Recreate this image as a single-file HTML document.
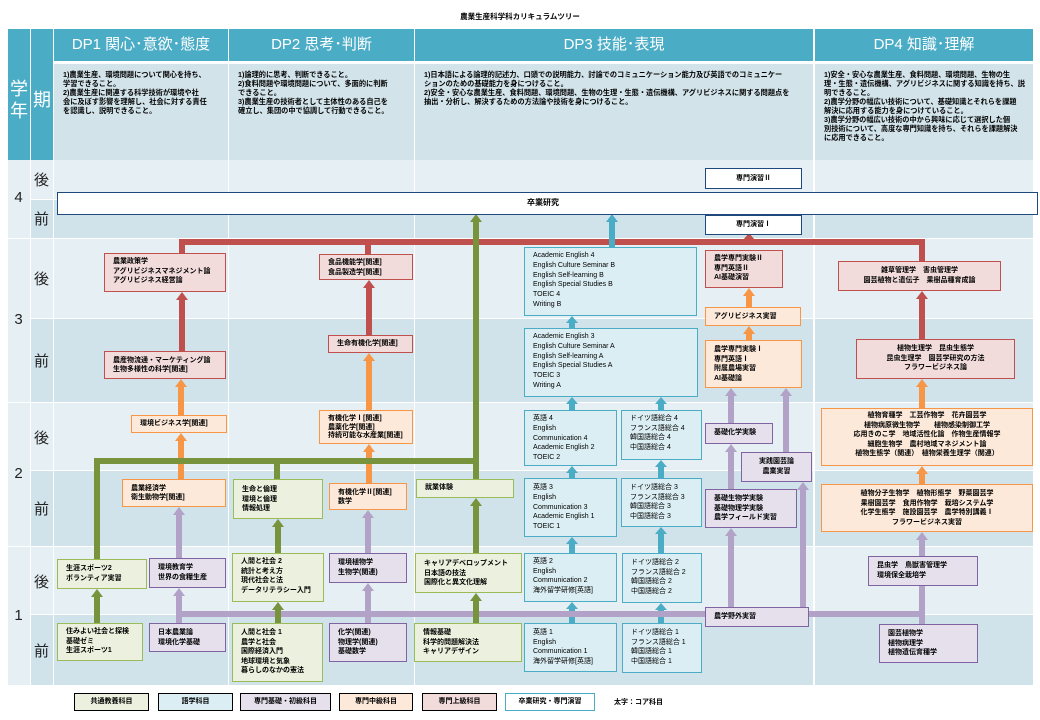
<!DOCTYPE html>
<html><head><meta charset="utf-8">
<style>
*{margin:0;padding:0;box-sizing:border-box}
body{width:1040px;height:720px;background:#fff;position:relative;overflow:hidden;font-family:"Liberation Sans","Noto Sans CJK JP",sans-serif;color:#000}
.a{position:absolute}
.hd{position:absolute;background:#4bacc6;color:#fff;font-size:15px;text-align:center;line-height:32px}
.ds{position:absolute;background:#d2e3ea;font-size:7.2px;font-weight:bold;line-height:9px;padding:6px 0 0 9px;white-space:nowrap}
.rl{background:#e6eff3}
.rd{background:#d0e2ea}
.lb{position:absolute;font-size:15px;color:#222;text-align:center;width:21px}
.b{position:absolute;z-index:3;border:1.5px solid;font-size:7px;line-height:9.6px;padding:3px 0 0 8px;white-space:nowrap;font-weight:bold}
.c{text-align:center;padding-left:0}
.g{border-color:#9bbb59;background:#ebf1de}
.bl{border-color:#4bacc6;background:#dbeef3;font-weight:normal}
.p{border-color:#8064a2;background:#e5e0ec}
.o{border-color:#f79646;background:#fde9d9}
.r{border-color:#c0504d;background:#f2dcdb}
.w{border-color:#1f497d;background:#fff}
svg{position:absolute;left:0;top:0;z-index:2}
.lg{position:absolute;top:693px;height:18px;border:1.5px solid;font-size:7px;font-weight:bold;text-align:center;line-height:15px}
</style></head><body>
<div class="a" style="left:0;top:11px;width:1040px;text-align:center;font-size:7.5px;font-weight:bold">農業生産科学科カリキュラムツリー</div>

<!-- left columns -->
<div class="a" style="left:8px;top:29px;width:22px;height:131px;background:#4bacc6"></div>
<div class="a" style="left:31px;top:29px;width:22px;height:131px;background:#4bacc6"></div>
<div class="a" style="left:8px;top:78px;width:22px;color:#fff;font-size:18px;text-align:center;line-height:22px">学<br>年</div>
<div class="a" style="left:31px;top:86px;width:22px;color:#fff;font-size:18px;text-align:center">期</div>

<!-- headers -->
<div class="hd" style="left:54px;top:29px;width:174px">DP1 関心･意欲･態度</div>
<div class="hd" style="left:229px;top:29px;width:185px">DP2 思考･判断</div>
<div class="hd" style="left:415px;top:29px;width:398px">DP3 技能･表現</div>
<div class="hd" style="left:815px;top:29px;width:218px">DP4 知識･理解</div>

<div class="ds" style="left:54px;top:64px;width:174px;height:96px">1)農業生産、環境問題について関心を持ち、<br>学習できること。<br>2)農業生産に関連する科学技術が環境や社<br>会に及ぼす影響を理解し、社会に対する責任<br>を認識し、説明できること。</div>
<div class="ds" style="left:229px;top:64px;width:185px;height:96px">1)論理的に思考、判断できること。<br>2)食料問題や環境問題について、多面的に判断<br>できること。<br>3)農業生産の技術者として主体性のある自己を<br>確立し、集団の中で協調して行動できること。</div>
<div class="ds" style="left:415px;top:64px;width:398px;height:96px">1)日本語による論理的記述力、口頭での説明能力、討論でのコミュニケーション能力及び英語でのコミュニケー<br>ションのための基礎能力を身につけること。<br>2)安全・安心な農業生産、食料問題、環境問題、生物の生理・生態・遺伝機構、アグリビジネスに関する問題点を<br>抽出・分析し、解決するための方法論や技術を身につけること。</div>
<div class="ds" style="left:815px;top:64px;width:218px;height:96px">1)安全・安心な農業生産、食料問題、環境問題、生物の生<br>理・生態・遺伝機構、アグリビジネスに関する知識を持ち、説<br>明できること。<br>2)農学分野の幅広い技術について、基礎知識とそれらを課題<br>解決に応用する能力を身につけていること。<br>3)農学分野の幅広い技術の中から興味に応じて選択した個<br>別技術について、高度な専門知識を持ち、それらを課題解決<br>に応用できること。</div>

<!-- grid rows -->
<div class="a rl" style="left:8px;top:160px;width:22px;height:78px"></div>
<div class="a rl" style="left:8px;top:239px;width:22px;height:163px"></div>
<div class="a rl" style="left:8px;top:403px;width:22px;height:143px"></div>
<div class="a rl" style="left:8px;top:547px;width:22px;height:138px"></div>

<div class="a rl" style="left:31px;top:160px;width:1002px;height:39px"></div>
<div class="a rd" style="left:31px;top:200px;width:1002px;height:38px"></div>
<div class="a rl" style="left:31px;top:239px;width:1002px;height:79px"></div>
<div class="a rd" style="left:31px;top:319px;width:1002px;height:83px"></div>
<div class="a rl" style="left:31px;top:403px;width:1002px;height:67px"></div>
<div class="a rd" style="left:31px;top:471px;width:1002px;height:75px"></div>
<div class="a rl" style="left:31px;top:547px;width:1002px;height:67px"></div>
<div class="a rd" style="left:31px;top:615px;width:1002px;height:70px"></div>
<!-- white separators -->
<div class="a" style="left:53px;top:160px;width:1px;height:525px;background:#fff"></div>
<div class="a" style="left:228px;top:64px;width:1px;height:621px;background:#fff"></div>
<div class="a" style="left:414px;top:64px;width:1px;height:621px;background:#fff"></div>
<div class="a" style="left:813px;top:64px;width:2px;height:621px;background:#fff"></div>

<div class="lb" style="left:8px;top:189px">4</div>
<div class="lb" style="left:8px;top:311px">3</div>
<div class="lb" style="left:8px;top:465px">2</div>
<div class="lb" style="left:8px;top:607px">1</div>
<div class="lb" style="left:31px;top:169px">後</div>
<div class="lb" style="left:31px;top:208px">前</div>
<div class="lb" style="left:31px;top:268px">後</div>
<div class="lb" style="left:31px;top:350px">前</div>
<div class="lb" style="left:31px;top:427px">後</div>
<div class="lb" style="left:31px;top:498px">前</div>
<div class="lb" style="left:31px;top:571px">後</div>
<div class="lb" style="left:31px;top:640px">前</div>

<svg width="1040" height="720">
<g fill="#c0504d" stroke="none">
<rect x="179" y="239" width="746" height="6"/>
<rect x="179" y="239" width="6" height="15"/>
<rect x="365" y="239" width="6" height="16"/>
<rect x="919" y="239" width="6" height="23"/>
<polygon points="743,240 755,240 749,233"/>
<rect x="179" y="300" width="6" height="51"/><polygon points="176,300 188,300 182,292"/>
<rect x="366" y="288" width="6" height="47"/><polygon points="363,288 375,288 369,280"/>
<rect x="919" y="299" width="6" height="40"/><polygon points="916,299 928,299 922,291"/>
</g>
<g fill="#f79646">
<rect x="178" y="387" width="6" height="28"/><polygon points="175,387 187,387 181,379"/>
<rect x="178" y="441" width="6" height="38"/><polygon points="175,441 187,441 181,433"/>
<rect x="366" y="361" width="6" height="49"/><polygon points="363,361 375,361 369,353"/>
<rect x="366" y="452" width="6" height="31"/><polygon points="363,452 375,452 369,444"/>
<rect x="746" y="296" width="6" height="11"/><polygon points="743,296 755,296 749,288"/>
<rect x="746" y="334" width="6" height="6"/><polygon points="743,334 755,334 749,326"/>
<rect x="919" y="387" width="6" height="21"/><polygon points="916,387 928,387 922,379"/>
<rect x="919" y="474" width="6" height="10"/><polygon points="916,474 928,474 922,466"/>
</g>
<g fill="#4bacc6">
<rect x="609" y="222" width="6" height="25"/><polygon points="606,222 618,222 612,214"/>
<rect x="569" y="322" width="6" height="6"/><polygon points="566,323 578,323 572,316"/>
<rect x="569" y="404" width="6" height="6"/><polygon points="566,404 578,404 572,397"/>
<rect x="569" y="472" width="6" height="6"/><polygon points="566,473 578,473 572,466"/>
<rect x="569" y="544" width="6" height="9"/><polygon points="566,544 578,544 572,537"/>
<rect x="569" y="609" width="6" height="14"/><polygon points="566,609 578,609 572,602"/>
<rect x="658" y="404" width="6" height="6"/><polygon points="655,404 667,404 661,397"/>
<rect x="658" y="467" width="6" height="11"/><polygon points="655,467 667,467 661,460"/>
<rect x="658" y="534" width="6" height="19"/><polygon points="655,534 667,534 661,527"/>
<rect x="658" y="610" width="6" height="13"/><polygon points="655,610 667,610 661,603"/>
</g>
<g fill="#b3a2c7">
<rect x="176" y="611" width="749" height="6"/>
<rect x="176" y="596" width="6" height="27"/><polygon points="173,596 185,596 179,588"/>
<rect x="176" y="515" width="6" height="43"/><polygon points="173,515 185,515 179,507"/>
<rect x="365" y="591" width="6" height="32"/><polygon points="362,591 374,591 368,583"/>
<rect x="365" y="518" width="6" height="35"/><polygon points="362,518 374,518 368,510"/>
<rect x="728" y="536" width="6" height="71"/><polygon points="725,536 737,536 731,528"/>
<rect x="728" y="452" width="6" height="37"/><polygon points="725,452 737,452 731,444"/>
<rect x="728" y="396" width="6" height="27"/><polygon points="725,396 737,396 731,388"/>
<rect x="783" y="396" width="6" height="56"/><polygon points="780,396 792,396 786,388"/>
<rect x="800" y="490" width="6" height="117"/><polygon points="797,490 809,490 803,482"/>
<rect x="919" y="540" width="6" height="84"/><polygon points="916,540 928,540 922,532"/>
</g>
<g fill="#77933c">
<rect x="94" y="458" width="385" height="6"/>
<rect x="94" y="458" width="6" height="101"/>
<rect x="274" y="458" width="6" height="21"/>
<rect x="473" y="222" width="6" height="257"/><polygon points="470,222 482,222 476,214"/>
<rect x="473" y="506" width="6" height="47"/><polygon points="470,506 482,506 476,498"/>
<rect x="473" y="601" width="6" height="22"/><polygon points="470,601 482,601 476,593"/>
<rect x="94" y="597" width="6" height="26"/><polygon points="91,597 103,597 97,589"/>
<rect x="275" y="527" width="6" height="26"/><polygon points="272,527 284,527 278,519"/>
<rect x="275" y="610" width="6" height="13"/><polygon points="272,610 284,610 278,602"/>
</g>
</svg>

<!-- year 4 -->
<div class="b w" style="left:57px;top:192px;width:981px;height:23px;font-size:8px;padding:5px 0 0 469px">卒業研究</div>
<div class="b w c" style="left:705px;top:168px;width:97px;height:21px;font-size:7px;padding-top:5px">専門演習Ⅱ</div>
<div class="b w c" style="left:705px;top:215px;width:97px;height:20px;font-size:7px;padding-top:4px">専門演習Ⅰ</div>

<!-- year 3 後 -->
<div class="b r" style="left:104px;top:253px;width:122px;height:39px">農業政策学<br>アグリビジネスマネジメント論<br>アグリビジネス経営論</div>
<div class="b r" style="left:319px;top:254px;width:94px;height:26px">食品機能学[関連]<br>食品製造学[関連]</div>
<div class="b bl" style="left:524px;top:247px;width:173px;height:69px;line-height:9.8px">Academic English 4<br>English Culture Seminar B<br>English Self-learning B<br>English Special Studies B<br>TOEIC 4<br>Writing B</div>
<div class="b r" style="left:705px;top:250px;width:78px;height:38px;padding-left:8px">農学専門実験Ⅱ<br>専門英語Ⅱ<br>AI基礎演習</div>
<div class="b o" style="left:705px;top:307px;width:96px;height:19px;padding-top:4px">アグリビジネス実習</div>
<div class="b r c" style="left:838px;top:261px;width:163px;height:30px;padding-top:4px">雑草管理学　害虫管理学<br>園芸植物と遺伝子　果樹品種育成論</div>

<!-- year 3 前 -->
<div class="b r" style="left:104px;top:351px;width:122px;height:28px;line-height:8.5px;padding-top:5px">農産物流通・マーケティング論<br>生物多様性の科学[関連]</div>
<div class="b r" style="left:328px;top:335px;width:85px;height:18px;padding-top:3px">生命有機化学[関連]</div>
<div class="b bl" style="left:524px;top:328px;width:174px;height:69px;line-height:9.8px">Academic English 3<br>English Culture Seminar A<br>English Self-learning A<br>English Special Studies A<br>TOEIC 3<br>Writing A</div>
<div class="b o" style="left:705px;top:340px;width:97px;height:48px;padding-top:4px">農学専門実験Ⅰ<br>専門英語Ⅰ<br>附属農場実習<br>AI基礎論</div>
<div class="b r c" style="left:856px;top:339px;width:159px;height:40px;padding-top:4px">植物生理学　昆虫生態学<br>昆虫生理学　園芸学研究の方法<br>フラワービジネス論</div>

<!-- year 2 後 -->
<div class="b o" style="left:131px;top:415px;width:96px;height:18px;padding-top:3px">環境ビジネス学[関連]</div>
<div class="b o" style="left:319px;top:410px;width:94px;height:34px;line-height:8.5px;padding-top:4px">有機化学Ⅰ[関連]<br>農薬化学[関連]<br>持続可能な水産業[関連]</div>
<div class="b bl" style="left:524px;top:410px;width:93px;height:56px;line-height:9.8px">英語 4<br>English<br>Communication 4<br>Academic English 2<br>TOEIC 2</div>
<div class="b bl" style="left:621px;top:410px;width:81px;height:50px">ドイツ語総合 4<br>フランス語総合 4<br>韓国語総合 4<br>中国語総合 4</div>
<div class="b p" style="left:705px;top:423px;width:68px;height:21px;padding-top:4px">基礎化学実験</div>
<div class="b p c" style="left:741px;top:452px;width:71px;height:30px;padding-top:4px">実践園芸論<br>農業実習</div>
<div class="b o c" style="left:821px;top:408px;width:212px;height:58px;padding-top:2px">植物育種学　工芸作物学　花卉園芸学<br>植物病原微生物学　　植物感染制御工学<br>応用きのこ学　地域活性化論　作物生産情報学<br>細胞生物学　農村地域マネジメント論<br>植物生態学（関連）　植物栄養生理学（関連）</div>

<!-- year 2 前 -->
<div class="b o" style="left:122px;top:479px;width:104px;height:28px;line-height:8.5px;padding-top:5px">農業経済学<br>衛生動物学[関連]</div>
<div class="b g" style="left:233px;top:479px;width:90px;height:40px;padding-top:5px">生命と倫理<br>環境と倫理<br>情報処理</div>
<div class="b o" style="left:329px;top:483px;width:78px;height:27px;line-height:8.5px;padding-top:5px">有機化学Ⅱ[関連]<br>数学</div>
<div class="b g" style="left:416px;top:479px;width:98px;height:19px;padding-top:3px">就業体験</div>
<div class="b bl" style="left:524px;top:478px;width:93px;height:59px;line-height:9.8px;padding-top:4px">英語 3<br>English<br>Communication 3<br>Academic English 1<br>TOEIC 1</div>
<div class="b bl" style="left:621px;top:478px;width:81px;height:49px;padding-top:4px">ドイツ語総合 3<br>フランス語総合 3<br>韓国語総合 3<br>中国語総合 3</div>
<div class="b p" style="left:705px;top:489px;width:92px;height:39px;padding-top:4px">基礎生物学実験<br>基礎物理学実験<br>農学フィールド実習</div>
<div class="b o c" style="left:821px;top:484px;width:212px;height:48px;padding-top:4px">植物分子生物学　植物形態学　野菜園芸学<br>果樹園芸学　食用作物学　栽培システム学<br>化学生態学　施設園芸学　農学特別講義Ⅰ<br>フラワービジネス実習</div>

<!-- year 1 後 -->
<div class="b g" style="left:57px;top:559px;width:90px;height:30px;padding-top:4px">生涯スポーツ2<br>ボランティア実習</div>
<div class="b p" style="left:149px;top:558px;width:77px;height:30px;padding-top:4px">環境教育学<br>世界の食糧生産</div>
<div class="b g" style="left:232px;top:553px;width:92px;height:49px;padding-top:3px">人間と社会 2<br>統計と考え方<br>現代社会と法<br>データリテラシー入門</div>
<div class="b p" style="left:329px;top:553px;width:78px;height:30px;padding-top:4px">環境植物学<br>生物学(関連)</div>
<div class="b g" style="left:415px;top:553px;width:107px;height:40px;padding-top:5px">キャリアデベロップメント<br>日本語の技法<br>国際化と異文化理解</div>
<div class="b bl" style="left:524px;top:553px;width:93px;height:49px;padding-top:3px">英語 2<br>English<br>Communication 2<br>海外留学研修[英語]</div>
<div class="b bl" style="left:622px;top:553px;width:80px;height:50px;padding-top:4px">ドイツ語総合 2<br>フランス語総合 2<br>韓国語総合 2<br>中国語総合 2</div>
<div class="b p" style="left:868px;top:556px;width:110px;height:30px;padding-top:4px">昆虫学　鳥獣害管理学<br>環境保全栽培学</div>
<div class="b p" style="left:705px;top:607px;width:104px;height:20px;padding-top:4px">農学野外実習</div>

<!-- year 1 前 -->
<div class="b g" style="left:57px;top:623px;width:86px;height:38px;padding-top:3px">住みよい社会と探検<br>基礎ゼミ<br>生涯スポーツ1</div>
<div class="b p" style="left:149px;top:623px;width:77px;height:29px;padding-top:4px">日本農業論<br>環境化学基礎</div>
<div class="b g" style="left:232px;top:623px;width:91px;height:59px;padding-top:4px">人間と社会 1<br>農学と社会<br>国際経済入門<br>地球環境と気象<br>暮らしのなかの憲法</div>
<div class="b p" style="left:329px;top:623px;width:78px;height:39px;padding-top:4px">化学(関連)<br>物理学(関連)<br>基礎数学</div>
<div class="b g" style="left:414px;top:623px;width:108px;height:39px;padding-top:4px">情報基礎<br>科学的問題解決法<br>キャリアデザイン</div>
<div class="b bl" style="left:524px;top:623px;width:93px;height:49px;padding-top:4px">英語 1<br>English<br>Communication 1<br>海外留学研修[英語]</div>
<div class="b bl" style="left:622px;top:623px;width:80px;height:50px;padding-top:4px">ドイツ語総合 1<br>フランス語総合 1<br>韓国語総合 1<br>中国語総合 1</div>
<div class="b p" style="left:879px;top:624px;width:99px;height:39px;padding-top:4px">園芸植物学<br>植物病理学<br>植物遺伝育種学</div>

<!-- legend -->
<div class="lg g" style="left:74px;width:75px">共通教養科目</div>
<div class="lg bl" style="left:158px;width:75px;font-weight:bold">語学科目</div>
<div class="lg p" style="left:240px;width:91px">専門基礎・初級科目</div>
<div class="lg o" style="left:339px;width:74px">専門中級科目</div>
<div class="lg r" style="left:422px;width:75px">専門上級科目</div>
<div class="lg" style="left:505px;width:90px;border-color:#4bacc6;background:#fff">卒業研究・専門演習</div>
<div class="a" style="left:614px;top:697px;font-size:7px;font-weight:bold">太字：コア科目</div>
</body></html>
